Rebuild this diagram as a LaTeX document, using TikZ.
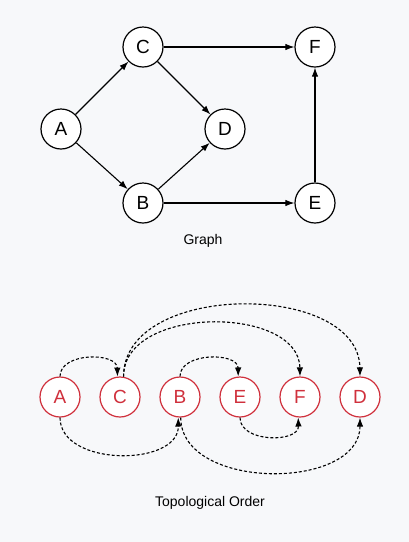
\documentclass[tikz,border=0pt]{standalone}
\usepackage{fontspec}
\setmainfont{Liberation Sans}
\usetikzlibrary{arrows.meta}
\definecolor{bgcol}{HTML}{F7F8FA}
\definecolor{topored}{HTML}{D0303C}

\begin{document}
\begin{tikzpicture}
  [x=1pt,y=-1pt,every node/.style={circle,draw=black,line width=1.2pt,fill=white,minimum size=40pt,inner sep=0pt,font=\fontsize{19}{22}\selectfont},
   topo/.style={draw=topored,text=topored},
   caption/.style={draw=none,fill=none,rectangle,minimum size=0pt,font=\fontsize{14}{16}\selectfont}]
  \useasboundingbox[fill=bgcol] (0,0) rectangle (409,542);
  % graph
  \node (a) at (61,129) {A};
  \node (c) at (143,47) {C};
  \node (b) at (143,203) {B};
  \node (d) at (225,129) {D};
  \node (f) at (315,47) {F};
  \node (e) at (315,203) {E};
  \node[caption] (g) at (203,241) {Graph};
  \begin{scope}[line width=1.1pt, -{Latex[length=9pt,width=6.5pt]}]
    \foreach \from/\to in {a/c,a/b,c/d,b/d,c/f,b/e,e/f}
    \draw (\from) -- (\to);
  \end{scope}
  % topological order
  \node[topo] (ta) at (60,397) {A};
  \node[topo] (tc) at (120,397) {C};
  \node[topo] (tb) at (180,397) {B};
  \node[topo] (te) at (240,397) {E};
  \node[topo] (tf) at (300,397) {F};
  \node[topo] (td) at (360,397) {D};
  \node[caption] (t) at (210,503) {Topological Order};
  \begin{scope}[line width=1.1pt, dash pattern=on 3pt off 2pt, -{Latex[length=9pt,width=6.5pt]}]
    \draw (ta.90) .. controls (60,352) and (117,352) .. (tc.97);
    \draw (tc.80) .. controls (123,305) and (299,305) .. (tf.90);
    \draw (tc.80) .. controls (123,281) and (359,281) .. (td.90);
    \draw (tb.90) .. controls (180,352) and (238,352) .. (te.95);
    \draw (ta.270) .. controls (60,467) and (179,467) .. (tb.265);
    \draw (te.270) .. controls (240,443) and (299,443) .. (tf.265);
    \draw (tb.272) .. controls (181,491) and (360,491) .. (td.270);
  \end{scope}
 \end{tikzpicture}
\end{document}
